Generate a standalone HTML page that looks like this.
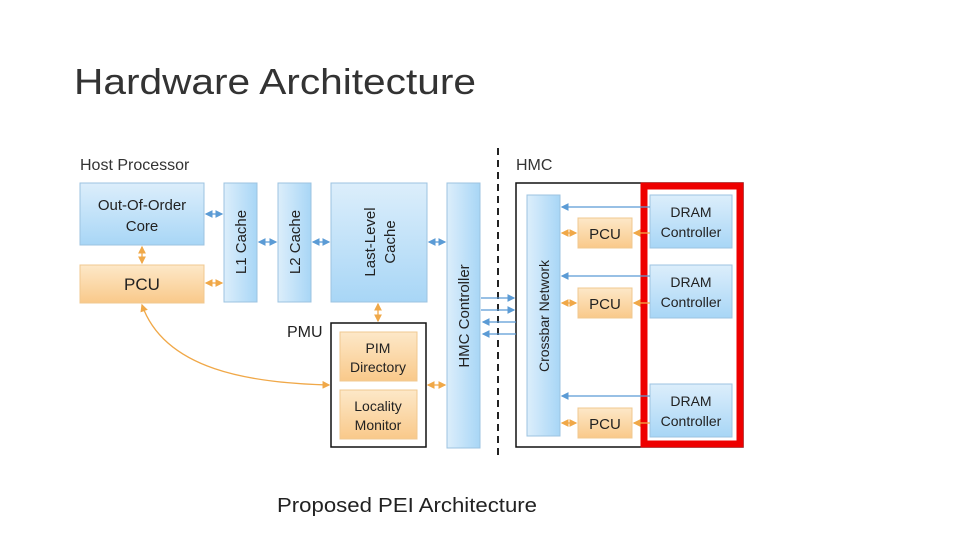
<!DOCTYPE html>
<html><head><meta charset="utf-8"><style>
html,body{margin:0;padding:0;background:#fff;}
svg{display:block;font-family:"Liberation Sans",sans-serif;}
</style></head><body>
<svg width="960" height="540" viewBox="0 0 960 540" xmlns="http://www.w3.org/2000/svg">
<defs>
<linearGradient id="b" x1="0" y1="0" x2="0" y2="1"><stop offset="0" stop-color="#dceefb"/><stop offset="1" stop-color="#a8d6f6"/></linearGradient>
<linearGradient id="bh" x1="0" y1="0" x2="1" y2="0"><stop offset="0" stop-color="#dceefb"/><stop offset="1" stop-color="#a8d6f6"/></linearGradient>
<linearGradient id="o" x1="0" y1="0" x2="0" y2="1"><stop offset="0" stop-color="#fde8c8"/><stop offset="1" stop-color="#f9c98a"/></linearGradient>
<marker id="ab" markerWidth="6" markerHeight="6" refX="5" refY="3" orient="auto-start-reverse"><path d="M0,0L6,3L0,6z" fill="#5b9bd5"/></marker>
<marker id="ao" markerWidth="6" markerHeight="6" refX="5" refY="3" orient="auto-start-reverse"><path d="M0,0L6,3L0,6z" fill="#f0a848"/></marker>
</defs>
<text x="74" y="94" font-size="36" fill="#333" textLength="402" lengthAdjust="spacingAndGlyphs">Hardware Architecture</text>
<text x="80" y="170" font-size="16" fill="#333">Host Processor</text>
<text x="516" y="170" font-size="16" fill="#333">HMC</text>
<text x="287" y="337" font-size="16" fill="#222">PMU</text>

<g stroke="#9cc3e0" stroke-width="1">
<rect x="80" y="183" width="124" height="62" fill="url(#b)"/>
<rect x="224" y="183" width="33" height="119" fill="url(#bh)"/>
<rect x="278" y="183" width="33" height="119" fill="url(#bh)"/>
<rect x="331" y="183" width="96" height="119" fill="url(#b)"/>
<rect x="447" y="183" width="33" height="265" fill="url(#bh)"/>
<rect x="527" y="195" width="33" height="241" fill="url(#bh)"/>
<rect x="650" y="195" width="82" height="53" fill="url(#b)"/>
<rect x="650" y="265" width="82" height="53" fill="url(#b)"/>
<rect x="650" y="384" width="82" height="53" fill="url(#b)"/>
</g>
<g stroke="#f0c890" stroke-width="1">
<rect x="80" y="265" width="124" height="38" fill="url(#o)"/>
<rect x="340" y="332" width="77" height="49" fill="url(#o)"/>
<rect x="340" y="390" width="77" height="49" fill="url(#o)"/>
<rect x="578" y="218" width="54" height="30" fill="url(#o)"/>
<rect x="578" y="288" width="54" height="30" fill="url(#o)"/>
<rect x="578" y="408" width="54" height="30" fill="url(#o)"/>
</g>
<rect x="331" y="323" width="95" height="124" fill="none" stroke="#111" stroke-width="1.5"/>
<rect x="516" y="183" width="227" height="264" fill="none" stroke="#111" stroke-width="1.5"/>
<rect x="644" y="186" width="96" height="258" fill="none" stroke="#e00" stroke-width="7"/>
<line x1="498" y1="148" x2="498" y2="455" stroke="#222" stroke-width="2" stroke-dasharray="7,5"/>

<g font-size="15" fill="#222" text-anchor="middle">
<text x="142" y="210">Out-Of-Order</text><text x="142" y="231">Core</text>
<text x="142" y="290" font-size="17">PCU</text>
<text transform="translate(246,242) rotate(-90)">L1 Cache</text>
<text transform="translate(300,242) rotate(-90)">L2 Cache</text>
<text transform="translate(375,242) rotate(-90)">Last-Level</text>
<text transform="translate(395,242) rotate(-90)">Cache</text>
<text transform="translate(469,316) rotate(-90)">HMC Controller</text>
<text transform="translate(549,316) rotate(-90)" font-size="14">Crossbar Network</text>
<text x="378" y="353" font-size="14">PIM</text><text x="378" y="372" font-size="14">Directory</text>
<text x="378" y="411" font-size="14">Locality</text><text x="378" y="430" font-size="14">Monitor</text>
<text x="605" y="239">PCU</text><text x="605" y="309">PCU</text><text x="605" y="429">PCU</text>
<text x="691" y="217" font-size="14">DRAM</text><text x="691" y="237" font-size="14">Controller</text>
<text x="691" y="287" font-size="14">DRAM</text><text x="691" y="307" font-size="14">Controller</text>
<text x="691" y="406" font-size="14">DRAM</text><text x="691" y="426" font-size="14">Controller</text>
</g>
<text x="277" y="512" font-size="20" fill="#222" textLength="260" lengthAdjust="spacingAndGlyphs">Proposed PEI Architecture</text>

<g stroke="#5b9bd5" stroke-width="1.3" fill="none">
<line x1="206" y1="214" x2="222" y2="214" marker-start="url(#ab)" marker-end="url(#ab)"/>
<line x1="259" y1="242" x2="276" y2="242" marker-start="url(#ab)" marker-end="url(#ab)"/>
<line x1="313" y1="242" x2="329" y2="242" marker-start="url(#ab)" marker-end="url(#ab)"/>
<line x1="429" y1="242" x2="445" y2="242" marker-start="url(#ab)" marker-end="url(#ab)"/>
<line x1="481" y1="298" x2="514" y2="298" marker-end="url(#ab)"/>
<line x1="481" y1="310" x2="514" y2="310" marker-end="url(#ab)"/>
<line x1="516" y1="322" x2="483" y2="322" marker-end="url(#ab)"/>
<line x1="516" y1="334" x2="483" y2="334" marker-end="url(#ab)"/>
<line x1="650" y1="207" x2="562" y2="207" marker-end="url(#ab)"/>
<line x1="650" y1="276" x2="562" y2="276" marker-end="url(#ab)"/>
<line x1="650" y1="396" x2="562" y2="396" marker-end="url(#ab)"/>
</g>
<g stroke="#f0a848" stroke-width="1.3" fill="none">
<line x1="142" y1="247" x2="142" y2="263" marker-start="url(#ao)" marker-end="url(#ao)"/>
<line x1="206" y1="283" x2="222" y2="283" marker-start="url(#ao)" marker-end="url(#ao)"/>
<line x1="378" y1="304" x2="378" y2="321" marker-start="url(#ao)" marker-end="url(#ao)"/>
<line x1="428" y1="385" x2="445" y2="385" marker-start="url(#ao)" marker-end="url(#ao)"/>
<path d="M142,305 C165,370 250,383 329,385" marker-start="url(#ao)" marker-end="url(#ao)"/>
<line x1="562" y1="233" x2="576" y2="233" marker-start="url(#ao)" marker-end="url(#ao)"/>
<line x1="562" y1="303" x2="576" y2="303" marker-start="url(#ao)" marker-end="url(#ao)"/>
<line x1="562" y1="423" x2="576" y2="423" marker-start="url(#ao)" marker-end="url(#ao)"/>
<line x1="650" y1="233" x2="634" y2="233" marker-end="url(#ao)"/>
<line x1="650" y1="303" x2="634" y2="303" marker-end="url(#ao)"/>
<line x1="650" y1="423" x2="634" y2="423" marker-end="url(#ao)"/>
</g>
</svg>
</body></html>
